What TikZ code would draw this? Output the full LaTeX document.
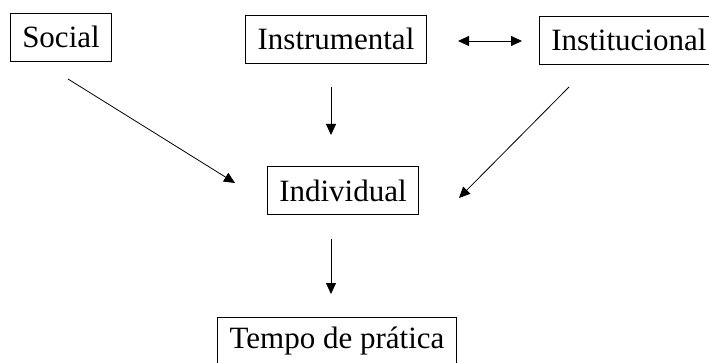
\documentclass[tikz,border=0pt]{standalone}
\usepackage{fontspec}
\setmainfont{Liberation Serif}
\usetikzlibrary{arrows.meta}

\begin{document}
\begin{tikzpicture}[x=1pt,y=1pt,
  box/.style={draw,line width=0.8pt,minimum height=48pt,inner xsep=12pt,
    font=\fontsize{31}{37}\selectfont},
  tip/.style={-{Triangle[length=11pt,width=10pt]}},
  arr/.style={line width=0.8pt,tip}]
\useasboundingbox (0,0) rectangle (709,362);
\node[box] (social) at (61,325) {Social};
\node[box] (instr) at (336,323) {Instrumental};
\node[box,anchor=west] (inst) at (539,322) {Institucional};
\node[box] (indiv) at (343,171.5) {Individual};
\node[box] (tempo) at (337,21) {Tempo de prática};
\coordinate (s1) at (68,283);
\coordinate (s2) at (235,179);
\coordinate (i1) at (331,275);
\coordinate (i2) at (331,227);
\coordinate (t1) at (569,275);
\coordinate (t2) at (459,164);
\coordinate (v1) at (331,123);
\coordinate (v2) at (331,68);
\coordinate (d1) at (458,321);
\coordinate (d2) at (522,321);
\draw[arr] (s1) -- (s2);
\draw[arr] (i1) -- (i2);
\draw[arr] (t1) -- (t2);
\draw[arr] (v1) -- (v2);
\draw[line width=0.8pt,{Triangle[length=11pt,width=10pt]}-{Triangle[length=11pt,width=10pt]}] (d1) -- (d2);
\end{tikzpicture}
\end{document}
